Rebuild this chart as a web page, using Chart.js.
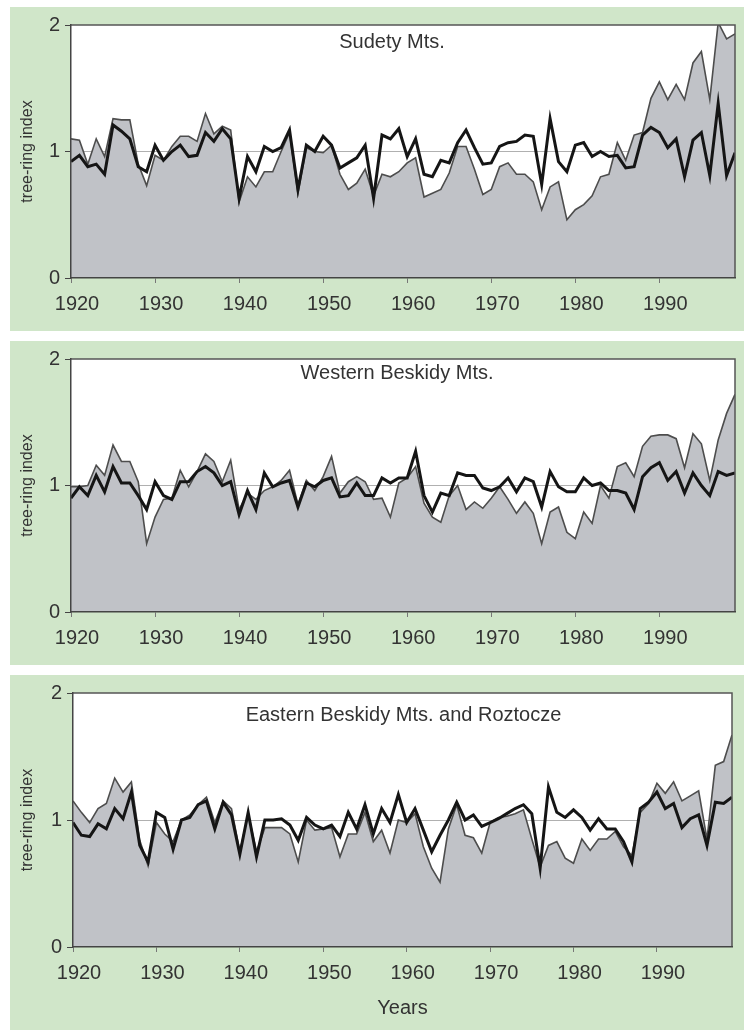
<!DOCTYPE html>
<html>
<head>
<meta charset="utf-8">
<title>tree-ring index</title>
<style>
  body { margin: 0; width: 744px; height: 1030px; background: #fff; position: relative; overflow: hidden; }
  .panel { position: absolute; left: 10px; width: 734px; background: #d0e6c9; }
  .panel canvas { display: block; }
</style>
<script src="https://cdn.jsdelivr.net/npm/chart.js"></script>
</head>
<body>
<div class="panel" style="top:7px;height:324px"><canvas id="sudety" width="734" height="324"></canvas></div>
<div class="panel" style="top:341px;height:324px"><canvas id="western" width="734" height="324"></canvas></div>
<div class="panel" style="top:675px;height:355px"><canvas id="eastern" width="734" height="355"></canvas></div>
<script>
// years on the x axis
const years = []
for (let y = 1920; y <= 1999; y++) years.push(y)

const yTicks = [0, 1, 2]
const titles = ['Sudety Mts.', 'Western Beskidy Mts.', 'Eastern Beskidy Mts. and Roztocze']

// grey filled series (thin outline)
const sudetyShaded = [
  1.10, 1.09, 0.90, 1.10, 0.96, 1.26, 1.25, 1.25, 0.90, 0.73,
  0.97, 0.93, 1.04, 1.12, 1.12, 1.08, 1.30, 1.14, 1.20, 1.17,
  0.60, 0.80, 0.72, 0.84, 0.84, 1.00, 1.15, 0.67, 1.03, 1.00,
  0.99, 1.05, 0.82, 0.70, 0.75, 0.86, 0.65, 0.82, 0.80, 0.84,
  0.91, 0.95, 0.64, 0.67, 0.70, 0.83, 1.04, 1.04, 0.86, 0.66,
  0.70, 0.88, 0.91, 0.82, 0.82, 0.76, 0.54, 0.72, 0.76, 0.46,
  0.54, 0.58, 0.65, 0.80, 0.82, 1.07, 0.93, 1.13, 1.15, 1.42,
  1.55, 1.41, 1.53, 1.41, 1.70, 1.79, 1.41, 2.02, 1.89, 1.93
]
// thick black series
const sudetyBold = [
  0.92, 0.97, 0.88, 0.90, 0.82, 1.21, 1.16, 1.10, 0.88, 0.84,
  1.05, 0.93, 1.00, 1.05, 0.96, 0.97, 1.15, 1.08, 1.18, 1.10,
  0.63, 0.96, 0.84, 1.04, 1.00, 1.03, 1.17, 0.70, 1.05, 1.00,
  1.12, 1.05, 0.87, 0.91, 0.95, 1.05, 0.63, 1.13, 1.10, 1.18,
  0.96, 1.10, 0.82, 0.80, 0.93, 0.91, 1.07, 1.17, 1.03, 0.90,
  0.91, 1.04, 1.07, 1.08, 1.13, 1.12, 0.74, 1.26, 0.92, 0.84,
  1.05, 1.07, 0.96, 1.00, 0.96, 0.97, 0.87, 0.88, 1.13, 1.19,
  1.15, 1.03, 1.10, 0.80, 1.09, 1.15, 0.81, 1.38, 0.81, 0.99
]

const westernShaded = [
  0.99, 0.99, 1.00, 1.16, 1.08, 1.32, 1.19, 1.19, 1.03, 0.54,
  0.75, 0.89, 0.90, 1.12, 0.99, 1.11, 1.25, 1.19, 1.03, 1.20,
  0.81, 0.94, 0.89, 0.96, 0.99, 1.04, 1.12, 0.85, 1.04, 0.96,
  1.07, 1.23, 0.94, 1.03, 1.07, 1.03, 0.89, 0.90, 0.75, 1.02,
  1.06, 1.15, 0.86, 0.75, 0.71, 0.92, 1.00, 0.81, 0.87, 0.82,
  0.90, 0.99, 0.89, 0.78, 0.87, 0.78, 0.54, 0.79, 0.83, 0.63,
  0.58, 0.79, 0.70, 1.00, 0.90, 1.15, 1.18, 1.07, 1.31, 1.39,
  1.40, 1.40, 1.37, 1.14, 1.41, 1.33, 1.04, 1.36, 1.57, 1.72
]
const westernBold = [
  0.90, 0.99, 0.92, 1.08, 0.95, 1.15, 1.02, 1.02, 0.92, 0.81,
  1.03, 0.92, 0.89, 1.03, 1.03, 1.11, 1.15, 1.10, 1.00, 1.03,
  0.77, 0.96, 0.81, 1.10, 0.99, 1.02, 1.04, 0.83, 1.02, 0.99,
  1.04, 1.06, 0.91, 0.92, 1.02, 0.92, 0.92, 1.06, 1.02, 1.06,
  1.06, 1.27, 0.92, 0.79, 0.94, 0.92, 1.10, 1.08, 1.08, 0.98,
  0.96, 0.99, 1.06, 0.95, 1.06, 1.03, 0.83, 1.11, 0.99, 0.95,
  0.95, 1.06, 1.00, 1.02, 0.96, 0.96, 0.94, 0.81, 1.07, 1.14,
  1.18, 1.04, 1.11, 0.94, 1.10, 1.00, 0.92, 1.11, 1.08, 1.10
]

const easternShaded = [
  1.15, 1.06, 0.98, 1.09, 1.13, 1.33, 1.22, 1.30, 0.84, 0.64,
  0.98, 0.89, 0.83, 1.00, 1.04, 1.12, 1.18, 0.98, 1.15, 1.09,
  0.75, 1.05, 0.75, 0.94, 0.94, 0.94, 0.89, 0.67, 1.00, 0.92,
  0.93, 0.94, 0.71, 0.89, 0.89, 1.06, 0.83, 0.92, 0.74, 1.00,
  0.98, 1.05, 0.79, 0.62, 0.51, 0.93, 1.12, 0.88, 0.86, 0.74,
  0.98, 1.02, 1.03, 1.05, 1.08, 0.85, 0.63, 0.80, 0.83, 0.70,
  0.66, 0.85, 0.76, 0.85, 0.85, 0.91, 0.79, 0.72, 1.06, 1.13,
  1.29, 1.21, 1.30, 1.15, 1.19, 1.23, 0.85, 1.43, 1.46, 1.67
]
const easternBold = [
  0.98, 0.88, 0.87, 0.97, 0.93, 1.09, 1.01, 1.22, 0.80, 0.67,
  1.06, 1.02, 0.77, 1.00, 1.02, 1.12, 1.15, 0.93, 1.14, 1.04,
  0.73, 1.06, 0.71, 1.00, 1.00, 1.01, 0.96, 0.84, 1.02, 0.96,
  0.93, 0.96, 0.87, 1.06, 0.93, 1.12, 0.89, 1.09, 0.98, 1.20,
  0.98, 1.09, 0.92, 0.75, 0.88, 1.00, 1.14, 1.00, 1.04, 0.95,
  0.98, 1.01, 1.05, 1.09, 1.12, 1.05, 0.62, 1.26, 1.06, 1.02,
  1.08, 1.02, 0.92, 1.01, 0.93, 0.93, 0.83, 0.67, 1.09, 1.14,
  1.22, 1.09, 1.13, 0.94, 1.01, 1.04, 0.80, 1.14, 1.13, 1.18
]

Chart.defaults.font.family = '"Liberation Sans", Arial, sans-serif'
Chart.defaults.color = '#333'

// white plot box behind everything
const plotBg = {
  id: 'plotBg',
  beforeDraw(chart) {
    const { ctx, chartArea: a } = chart
    ctx.save()
    ctx.fillStyle = '#fff'
    ctx.fillRect(a.left, a.top, a.right - a.left, a.bottom - a.top)
    ctx.restore()
  }
}

// region name written inside the plot area
const panelTitle = {
  id: 'panelTitle',
  afterDatasetsDraw(chart, args, opts) {
    const { ctx, chartArea } = chart
    ctx.save()
    ctx.font = '20px "Liberation Sans", Arial, sans-serif'
    ctx.fillStyle = '#333'
    ctx.textAlign = 'center'
    ctx.textBaseline = 'middle'
    ctx.fillText(opts.text, (chartArea.left + chartArea.right) / 2 + opts.dx, chartArea.top + opts.dy)
    ctx.restore()
  }
}

// top and right edge of the plot box
const frame = {
  id: 'frame',
  afterDatasetsDraw(chart) {
    const { ctx, chartArea: a } = chart
    ctx.save()
    ctx.strokeStyle = '#555'
    ctx.lineWidth = 1.5
    ctx.beginPath()
    ctx.moveTo(a.left, a.top)
    ctx.lineTo(a.right, a.top)
    ctx.lineTo(a.right, a.bottom)
    ctx.stroke()
    ctx.restore()
  }
}

function drawPanel(id, title, shaded, bold, box) {
  return new Chart(document.getElementById(id), {
    type: 'line',
    data: {
      labels: years,
      datasets: [{
        data: bold,
        borderColor: '#151515',
        borderWidth: 3,
        fill: false,
        pointRadius: 0,
        order: 0
      }, {
        data: shaded,
        borderColor: '#4d4d4d',
        borderWidth: 1.6,
        backgroundColor: '#c0c2c7',
        fill: 'origin',
        pointRadius: 0,
        order: 1
      }]
    },
    options: {
      responsive: false,
      animation: false,
      devicePixelRatio: 1,
      layout: { padding: { top: box.top, right: box.right, left: 0, bottom: 0 } },
      plugins: {
        legend: { display: false },
        tooltip: { enabled: false },
        panelTitle: { text: title, dx: box.dx, dy: box.dy }
      },
      scales: {
        x: {
          type: 'linear',
          min: years[0],
          max: years[years.length - 1],
          ticks: {
            stepSize: 10,
            includeBounds: false,
            maxRotation: 0,
            padding: 9,
            labelOffset: 6,
            font: { size: 20 },
            callback: v => String(v)
          },
          grid: { drawOnChartArea: false, tickLength: 5, tickColor: '#777' },
          border: { color: '#444', width: 1.5, z: 1 },
          title: {
            display: box.xTitle,
            text: 'Years',
            font: { size: 20 },
            padding: { top: 0, bottom: 10 }
          },
          afterFit: s => { s.height = box.xHeight }
        },
        y: {
          min: yTicks[0],
          max: yTicks[yTicks.length - 1],
          afterBuildTicks: s => { s.ticks = yTicks.map(v => ({ value: v })) },
          ticks: { padding: 5, font: { size: 20 } },
          grid: {
            color: c => (c.tick && c.tick.value === 1 ? '#b0b0b0' : 'rgba(0,0,0,0)'),
            tickColor: '#444',
            tickLength: 6
          },
          border: { color: '#444', width: 1.5, z: 1 },
          title: {
            display: true,
            text: 'tree-ring index',
            font: { size: 16 },
            padding: { top: 8, bottom: 0 }
          },
          afterFit: s => { s.width = box.yWidth }
        }
      }
    },
    plugins: [plotBg, panelTitle, frame]
  })
}

drawPanel('sudety', titles[0], sudetyShaded, sudetyBold,
  { top: 18, right: 9, yWidth: 61, xHeight: 53, xTitle: false, dx: -11, dy: 17 })
drawPanel('western', titles[1], westernShaded, westernBold,
  { top: 18, right: 9, yWidth: 61, xHeight: 53, xTitle: false, dx: -6, dy: 14 })
drawPanel('eastern', titles[2], easternShaded, easternBold,
  { top: 18, right: 12, yWidth: 63, xHeight: 83, xTitle: true, dx: 1, dy: 22 })
</script>
</body>
</html>
